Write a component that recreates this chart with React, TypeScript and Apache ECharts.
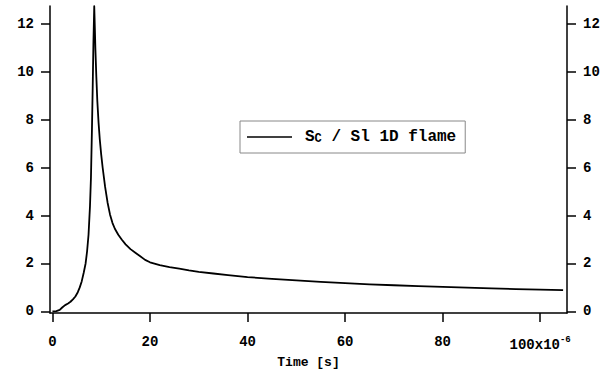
import React, { useEffect, useRef } from "react";
import * as echarts from "echarts";

const timeUs: number[] = [
  0, 0.8, 1.5, 2, 2.6, 3.2, 3.7, 4.2, 4.7, 5.2, 5.6, 6.0, 6.4, 6.8, 7.1, 7.4, 7.7,
  7.9, 8.1, 8.25, 8.4, 8.57, 8.7, 8.8, 9.0, 9.2, 9.45, 9.7, 10.0, 10.3, 10.8, 11.3,
  11.8, 12.3, 12.8, 13.5, 14.2, 15, 16, 17, 18, 19, 20, 22, 24, 26, 28, 30, 33, 36,
  40, 45, 50, 55, 60, 65, 70, 75, 80, 85, 90, 95, 100, 104.7,
];
const ratio: number[] = [
  0.0, 0.01, 0.06, 0.16, 0.26, 0.33, 0.4, 0.5, 0.62, 0.8, 1.0, 1.25, 1.6, 2.0, 2.5,
  3.2, 4.4, 5.6, 7.6, 9.3, 11.2, 12.75, 11.8, 11.0, 9.8, 8.8, 7.9, 7.2, 6.55, 6.0,
  5.2, 4.55, 4.05, 3.7, 3.45, 3.2, 3.0, 2.8, 2.6, 2.45, 2.3, 2.15, 2.05, 1.93, 1.85,
  1.78, 1.71, 1.65, 1.58, 1.51, 1.43, 1.36, 1.29, 1.23, 1.18, 1.13, 1.09, 1.05, 1.02,
  0.99, 0.96, 0.93, 0.91, 0.89,
];
const xTicks: number[] = [0, 20, 40, 60, 80, 100];
const yTicks: number[] = [0, 2, 4, 6, 8, 10, 12];
const seriesName = "Sc / Sl 1D flame";
const xTitle = "Time [s]";

const FONT = "'Liberation Mono', 'DejaVu Sans Mono', monospace";

export default function App() {
  const ref = useRef<HTMLDivElement>(null);
  useEffect(() => {
    if (!ref.current) return;
    const chart = echarts.init(ref.current, undefined, { renderer: "svg" });
    const labelStyle = {
      fontFamily: FONT,
      fontWeight: "bold" as const,
      fontSize: 14,
      color: "#000",
    };
    const yAxisBase = {
      type: "value" as const,
      min: -0.07,
      max: 12.76,
      splitLine: { show: false },
      axisLine: { show: true, onZero: false, lineStyle: { color: "#000", width: 1.5 } },
      axisTick: { show: true, inside: false, length: 9, customValues: yTicks, lineStyle: { color: "#000", width: 1.5 } },
      axisLabel: { ...labelStyle, margin: 16, customValues: yTicks },
    };
    chart.setOption({
      animation: false,
      backgroundColor: "#fff",
      grid: { left: 50, right: 39, top: 6, bottom: 63 },
      legend: {
        show: true,
        left: 240,
        top: 121,
        orient: "horizontal",
        padding: [8, 9, 8, 7],
        borderColor: "#888",
        borderWidth: 1,
        itemWidth: 45,
        itemHeight: 14,
        formatter: () => "S{sub|C} / Sl 1D flame",
        textStyle: {
          fontFamily: FONT,
          fontWeight: "bold",
          fontSize: 16,
          color: "#000",
          padding: [0, 0, 0, 8],
          rich: {
            sub: { fontFamily: FONT, fontSize: 12, color: "#000", verticalAlign: "bottom", padding: [4, 0, 0, 0] },
          },
        },
        data: [{ name: seriesName, icon: "path://M0,0 L45,0 L45,1.6 L0,1.6 Z" }],
      },
      xAxis: {
        type: "value",
        min: -0.5,
        max: 105.5,
        name: xTitle,
        nameLocation: "middle",
        nameGap: 42,
        nameTextStyle: { fontFamily: FONT, fontWeight: "bold", fontSize: 13, color: "#000" },
        splitLine: { show: false },
        axisLine: { show: true, onZero: false, lineStyle: { color: "#000", width: 1.5 } },
        axisTick: { show: true, inside: false, length: 9, customValues: xTicks, lineStyle: { color: "#000", width: 1.5 } },
        axisLabel: {
          ...labelStyle,
          margin: 22,
          customValues: xTicks,
          formatter: (v: number) => (v === 100 ? "100x10{sup|-6}" : String(v)),
          rich: {
            sup: { fontFamily: FONT, fontWeight: "bold", fontSize: 9, color: "#000", verticalAlign: "top", padding: [0, 0, 10, 0] },
          },
        },
      },
      yAxis: [
        { ...yAxisBase, position: "left" },
        { ...yAxisBase, position: "right" },
      ],
      series: [
        {
          name: seriesName,
          type: "line",
          yAxisIndex: 0,
          symbol: "none",
          showSymbol: false,
          clip: true,
          smooth: false,
          lineStyle: { color: "#000", width: 1.8, join: "round" },
          itemStyle: { color: "#000" },
          data: timeUs.map((t, i) => [t, ratio[i]]),
        },
      ],
    });
    return () => chart.dispose();
  }, []);
  return (
    <div
      ref={ref}
      style={{ position: "fixed", left: 0, top: 0, width: 606, height: 376, background: "#fff" }}
    />
  );
}
